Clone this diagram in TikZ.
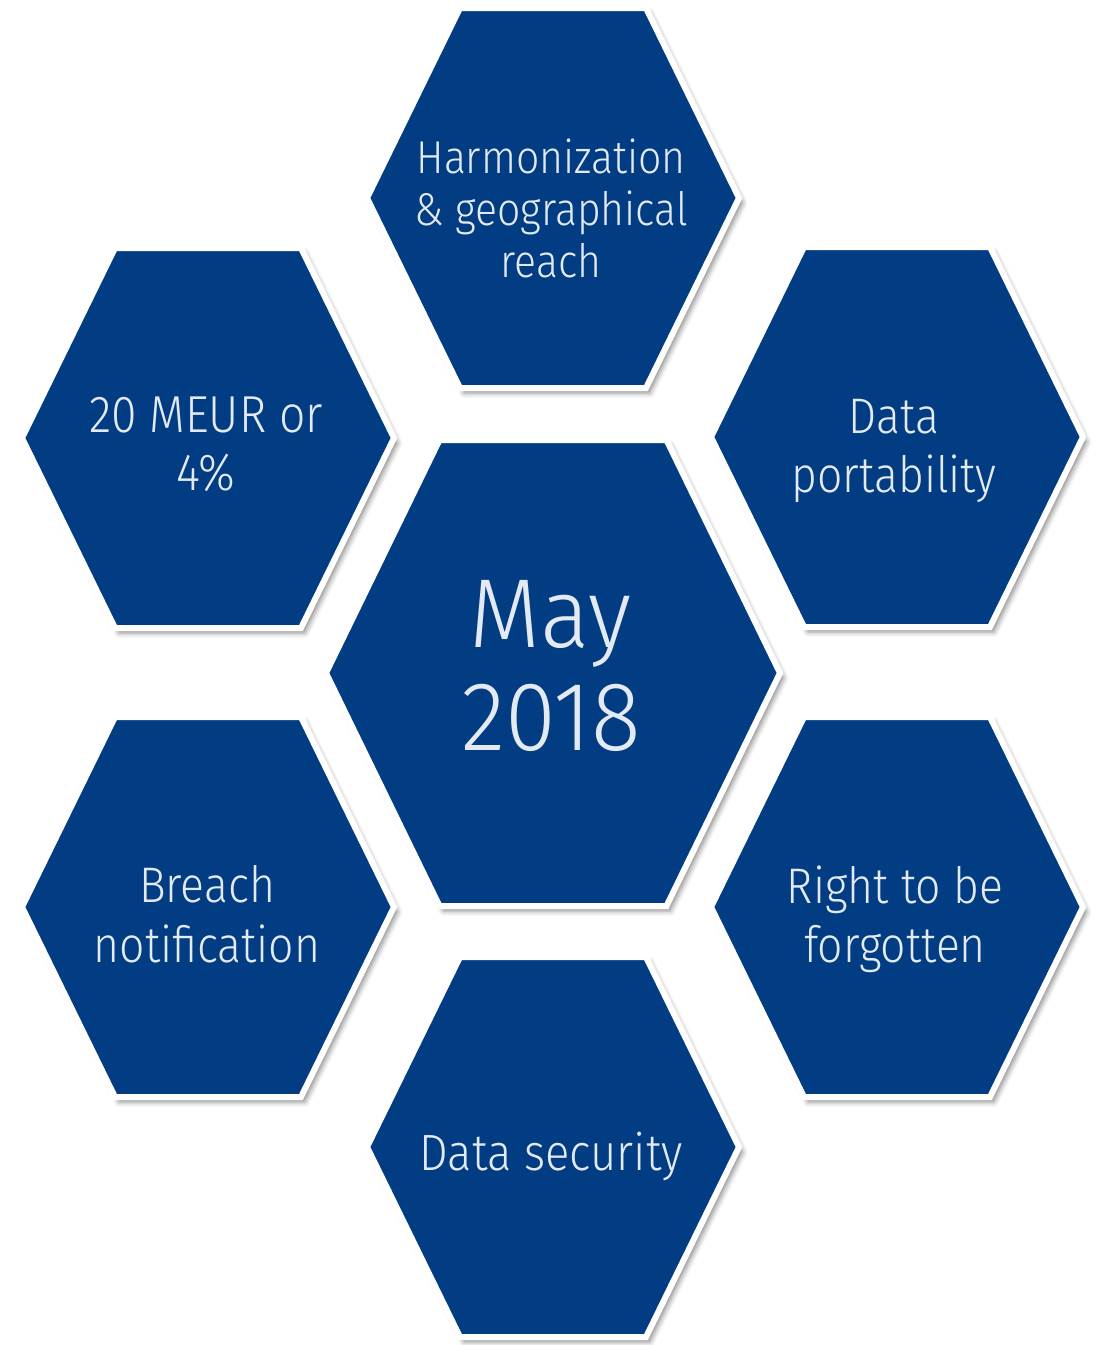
\documentclass[tikz,border=0pt]{standalone}
\usepackage{fontspec}
\usetikzlibrary{shadows.blur}
\newfontfamily\hexfont[FakeStretch=0.89]{Fira Sans Light}
\newfontfamily\hexbigfont[FakeStretch=0.94]{Fira Sans Light}
\definecolor{hexblue}{HTML}{023D84}
\definecolor{hexink}{HTML}{E4EAF2}
\tikzset{
  hexcell/.style={fill=hexblue, draw=white, line width=6pt, line join=miter,
    blur shadow={shadow xshift=4pt, shadow yshift=-5pt, shadow blur radius=5pt, shadow opacity=45}},
  hexlabel/.style={text=hexink, align=center, inner sep=0pt, anchor=base},
}
\newcommand\hexagonat[4]{% cx, cy, half-width, half-height
  \path[hexcell] (#1-#3,#2) -- (#1-#3/2,#2-#4) -- (#1+#3/2,#2-#4) -- (#1+#3,#2)
    -- (#1+#3/2,#2+#4) -- (#1-#3/2,#2+#4) -- cycle;}
\begin{document}
\begin{tikzpicture}[x=1pt,y=-1pt]
\useasboundingbox (0,0) rectangle (1102,1345);
\hexagonat{553}{198}{186}{190}
\hexagonat{208}{438}{186}{190}
\hexagonat{897}{437}{186}{190}
\hexagonat{208}{907}{186}{190}
\hexagonat{897}{907}{186}{190}
\hexagonat{553}{1147}{186}{190}
\hexagonat{553}{673}{227}{233}
\node[hexlabel, font=\hexfont\fontsize{46}{52}\selectfont] (harm) at (551,277) {Harmonization\\\& geographical\\reach};
\node[hexlabel, font=\hexfont\fontsize{52}{58}\selectfont] (meur) at (206,490) {20 MEUR or\\4\%};
\node[hexlabel, font=\hexfont\fontsize{50}{59}\selectfont] (port) at (894,492) {Data\\portability};
\node[hexlabel, font=\hexbigfont\fontsize{98}{103}\selectfont] (may) at (551,750) {May\\2018};
\node[hexlabel, font=\hexfont\fontsize{50}{60}\selectfont] (breach) at (207,962) {Breach\\notification};
\node[hexlabel, font=\hexfont\fontsize{50}{59}\selectfont] (right) at (895,962) {Right to be\\forgotten};
\node[hexlabel, font=\hexfont\fontsize{51}{59}\selectfont] (sec) at (551,1170) {Data security};
\end{tikzpicture}
\end{document}
